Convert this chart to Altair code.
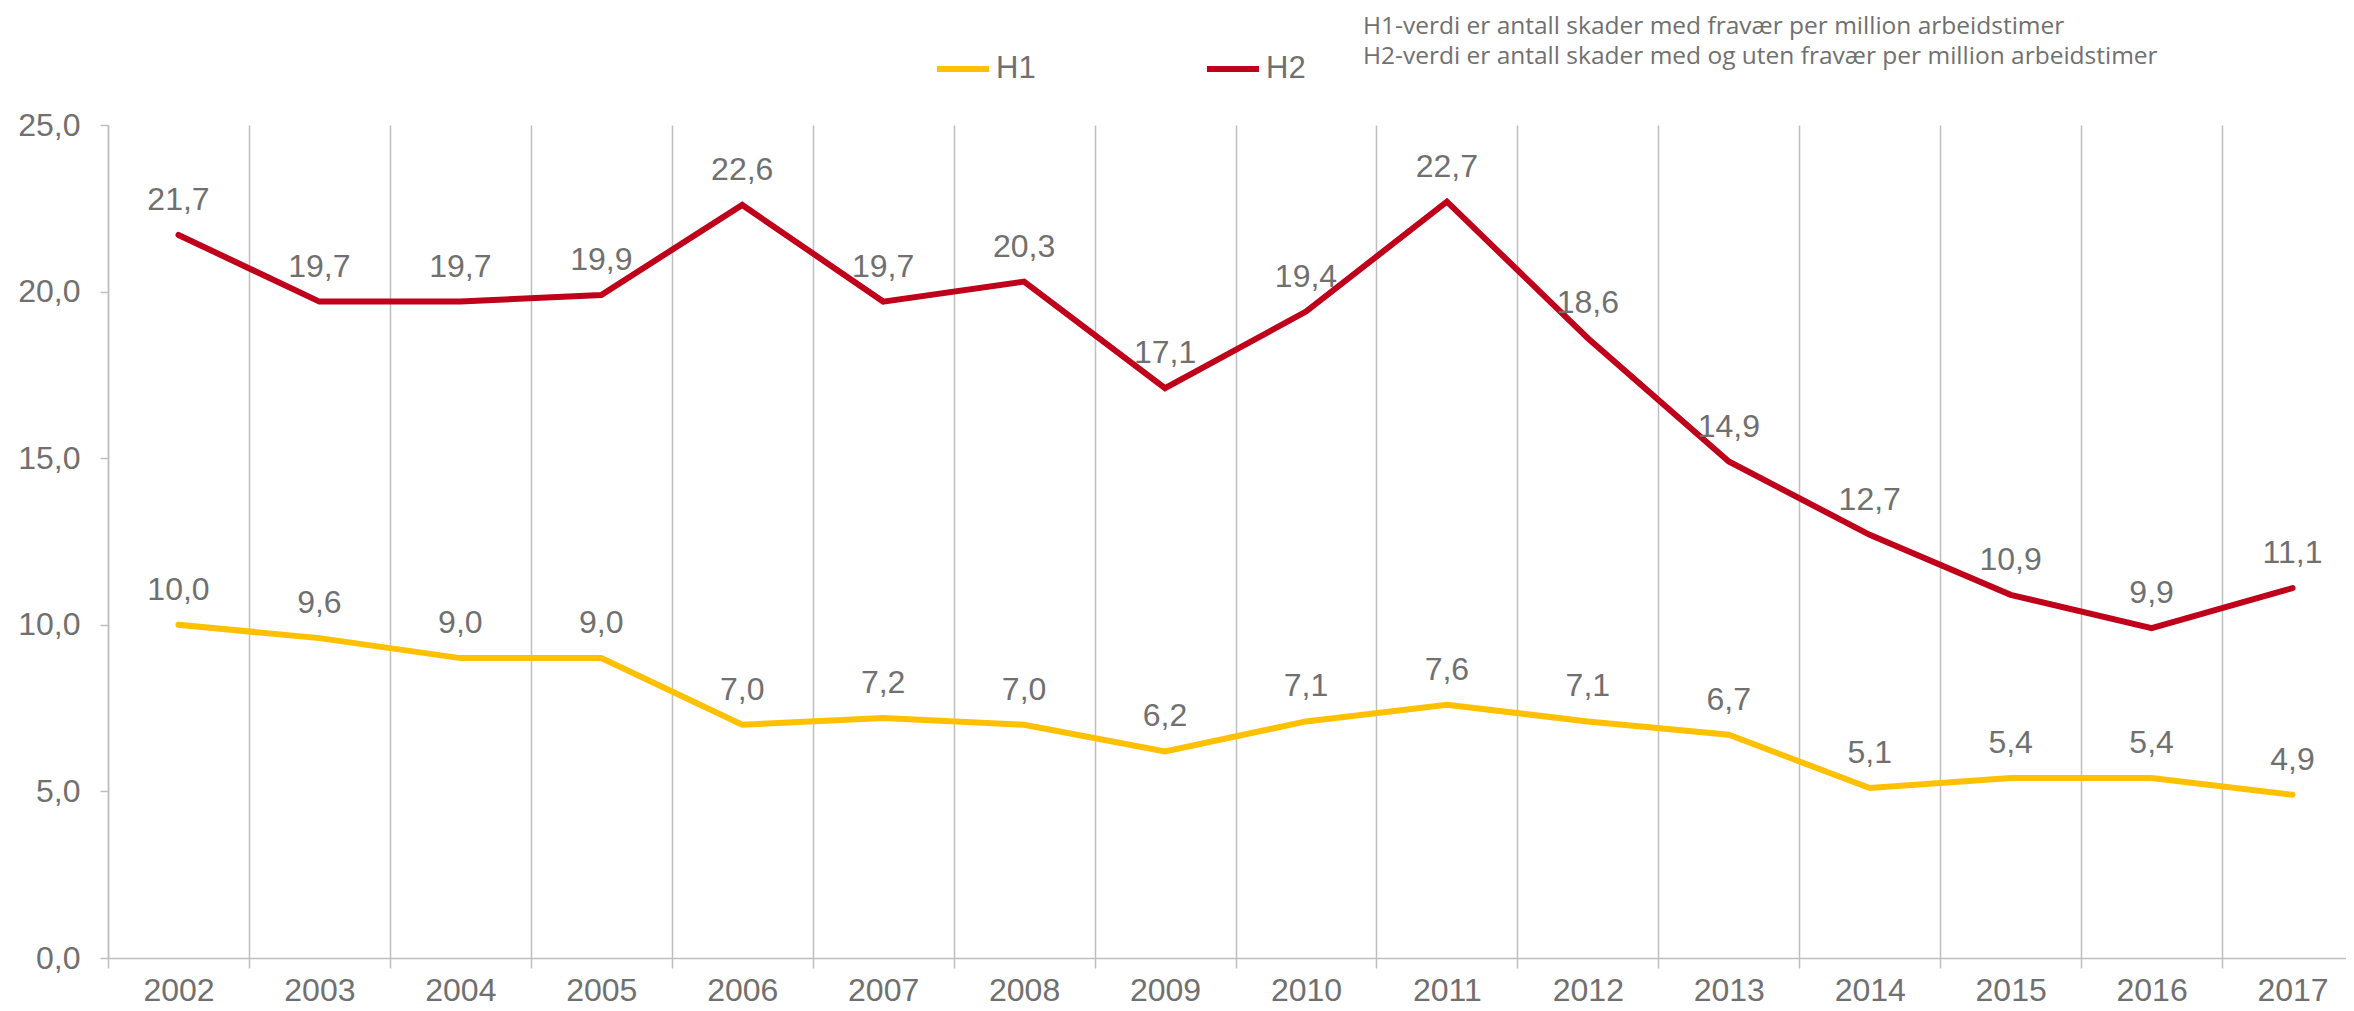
import altair as alt
import pandas as pd

years = [str(y) for y in range(2002, 2018)]
h1 = [10.0, 9.6, 9.0, 9.0, 7.0, 7.2, 7.0, 6.2, 7.1, 7.6, 7.1, 6.7, 5.1, 5.4, 5.4, 4.9]
h2 = [21.7, 19.7, 19.7, 19.9, 22.6, 19.7, 20.3, 17.1, 19.4, 22.7, 18.6, 14.9, 12.7, 10.9, 9.9, 11.1]
series_names = ["H1", "H2"]
series_colors = ["#FFC000", "#C0001A"]
note_line_1 = "H1-verdi er antall skader med fravær per million arbeidstimer"
note_line_2 = "H2-verdi er antall skader med og uten fravær per million arbeidstimer"
y_ticks = [0, 5, 10, 15, 20, 25]

rows = []
for i, yr in enumerate(years):
    rows.append({"year": yr, "series": "H1", "value": h1[i]})
    rows.append({"year": yr, "series": "H2", "value": h2[i]})
df = pd.DataFrame(rows)

GREY = "#707070"
GRID = "#BFBFBF"
FONT = "Liberation Sans"

x_enc = alt.X(
    "year:N",
    sort=years,
    scale=alt.Scale(paddingInner=0, paddingOuter=0, range=[0, 2255]),
    axis=alt.Axis(
        title=None,
        labelAngle=0,
        grid=True,
        gridColor=GRID,
        gridWidth=1.5,
        tickBand="extent",
        ticks=True,
        tickColor=GRID,
        tickWidth=1.5,
        tickSize=10,
        domainColor=GRID,
        domainWidth=1.5,
        labelFontSize=32,
        labelFont=FONT,
        labelColor=GREY,
        labelPadding=7,
        labelBound=False,
        labelOverlap=False,
    ),
)
y_enc = alt.Y(
    "value:Q",
    scale=alt.Scale(domain=[0, 25], nice=False, zero=True),
    axis=alt.Axis(
        title=None,
        values=y_ticks,
        grid=False,
        tickColor=GRID,
        tickWidth=1.5,
        tickSize=8,
        domainColor=GRID,
        domainWidth=1.5,
        labelFontSize=32,
        labelFont=FONT,
        labelColor=GREY,
        labelPadding=20,
        labelExpr="replace(format(datum.value, '.1f'), '.', ',')",
    ),
)
color_enc = alt.Color(
    "series:N",
    scale=alt.Scale(domain=series_names, range=series_colors),
    legend=alt.Legend(
        title=None,
        orient="none",
        direction="horizontal",
        legendX=826,
        legendY=-85,
        symbolType="stroke",
        symbolSize=2704,
        symbolStrokeWidth=6,
        labelFontSize=31,
        labelFont=FONT,
        labelColor=GREY,
        labelOffset=4,
        columnPadding=159,
    ),
)

lines = alt.Chart(df).mark_line(strokeWidth=6, strokeCap="round").encode(
    x=x_enc, y=y_enc, color=color_enc, detail="series:N"
)

labels = alt.Chart(df).transform_calculate(
    label="replace(format(datum.value, '.1f'), '.', ',')"
).mark_text(
    dy=-25, baseline="alphabetic", align="center", fontSize=32, font=FONT, color=GREY
).encode(
    x=alt.X("year:N", sort=years), y="value:Q", text="label:N"
)

one = pd.DataFrame({"k": [0]})
note_style = dict(align="left", baseline="alphabetic", fontSize=24.5, font="Open Sans", color=GREY)
note1 = alt.Chart(one).mark_text(text=note_line_1, **note_style).encode(
    x=alt.value(1255), y=alt.value(-91)
)
note2 = alt.Chart(one).mark_text(text=note_line_2, **note_style).encode(
    x=alt.value(1255), y=alt.value(-61)
)

chart = alt.layer(lines, labels, note1, note2).properties(
    width=2238,
    height=833,
    padding={"left": 100, "top": 117, "right": 0, "bottom": 50},
    autosize=alt.AutoSizeParams(type="none"),
    background="white",
).configure_view(stroke=None)

chart.save("out.html", embed_options={"renderer": "svg", "actions": False})
